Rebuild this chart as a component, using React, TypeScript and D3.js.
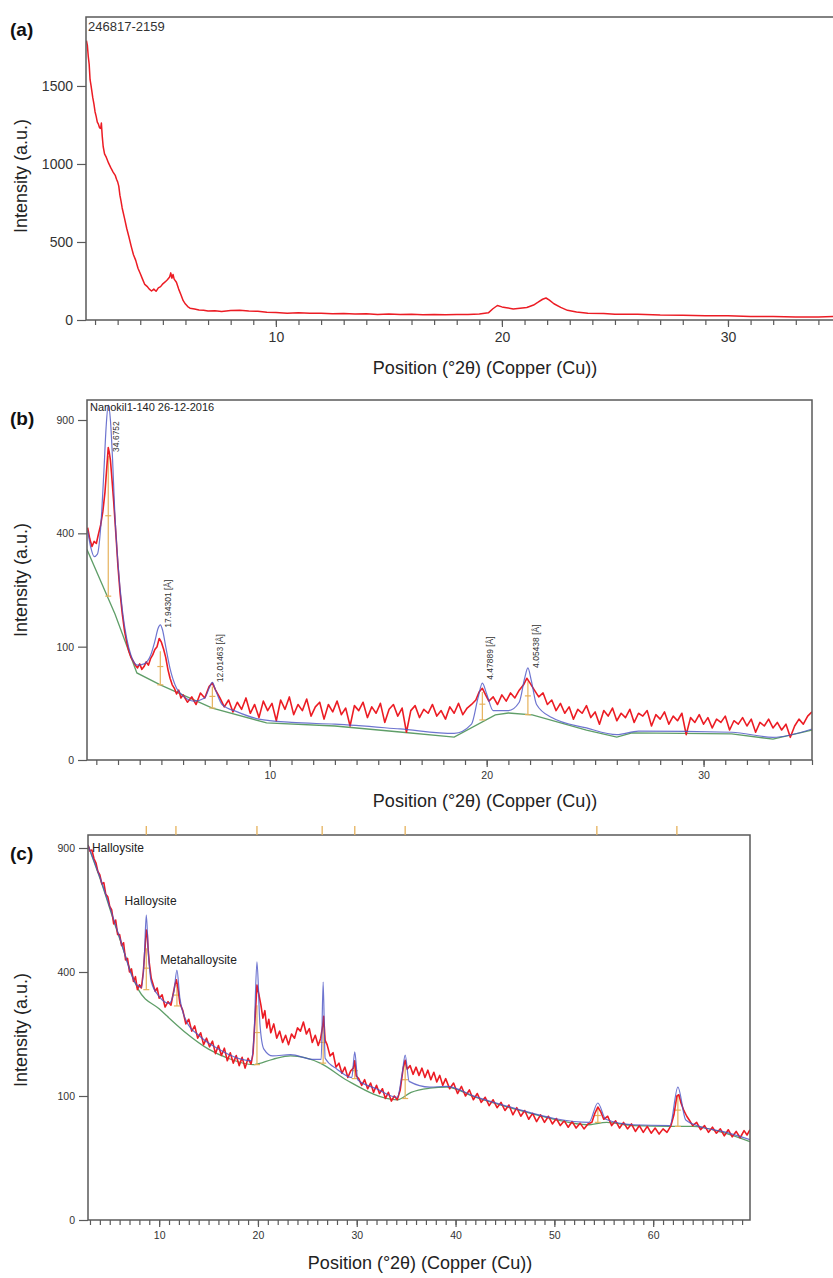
import * as d3 from "d3";
import React, { useRef, useEffect } from "react";

// ---- panel (a) : raw scan 246817-2159, [2theta, counts]
const redA = [
  [1.62, 1790], [1.66, 1760], [1.7, 1690], [1.74, 1640], [1.78, 1540], [1.82, 1505], [1.86, 1465], [1.9, 1425],
  [1.95, 1385], [2.0, 1335], [2.05, 1305], [2.1, 1268], [2.15, 1255], [2.2, 1232], [2.25, 1228], [2.28, 1262],
  [2.32, 1175], [2.36, 1112], [2.42, 1065], [2.5, 1042], [2.6, 1005], [2.7, 975], [2.8, 948], [2.9, 925],
  [2.95, 902], [3.0, 885], [3.05, 858], [3.1, 800], [3.15, 762], [3.2, 718], [3.3, 655], [3.4, 588],
  [3.5, 532], [3.6, 472], [3.7, 418], [3.8, 382], [3.9, 332], [4.0, 298], [4.1, 262], [4.2, 228],
  [4.3, 216], [4.4, 198], [4.5, 186], [4.6, 198], [4.7, 184], [4.8, 206], [4.9, 214], [5.0, 232],
  [5.1, 244], [5.2, 258], [5.3, 276], [5.35, 302], [5.4, 268], [5.45, 292], [5.5, 262], [5.6, 242],
  [5.7, 198], [5.8, 162], [5.9, 124], [6.0, 102], [6.1, 86], [6.2, 76], [6.4, 71], [6.6, 64],
  [6.8, 63], [7.0, 58], [7.3, 60], [7.6, 55], [8.0, 61], [8.4, 63], [8.8, 57], [9.2, 56],
  [9.6, 49], [10.0, 48], [10.5, 44], [11.0, 46], [11.5, 43], [12.0, 44], [12.5, 40], [13.0, 42],
  [13.5, 39], [14.0, 40], [14.5, 36], [15.0, 38], [15.5, 35], [16.0, 37], [16.5, 34], [17.0, 36],
  [17.5, 33], [18.0, 36], [18.5, 35], [19.0, 39], [19.4, 46], [19.6, 72], [19.8, 93], [20.0, 84],
  [20.2, 79], [20.5, 71], [20.8, 76], [21.1, 80], [21.4, 96], [21.6, 114], [21.8, 133], [21.95, 141],
  [22.1, 127], [22.3, 104], [22.6, 81], [22.9, 62], [23.3, 51], [23.8, 44], [24.5, 41], [25.0, 37],
  [26.0, 37], [27.0, 32], [28.0, 31], [29.0, 27], [30.0, 28], [31.0, 23], [32.0, 23], [33.0, 19],
  [34.0, 20], [35.0, 23],
];
const yTicksA = [0, 500, 1000, 1500];
const xLabelsAB = [10, 20, 30];

// ---- panel (b) : Nanokil1-140 26-12-2016
const redB = [
  [1.6, 420], [1.7, 380], [1.8, 355], [1.9, 372], [2.0, 365], [2.1, 398], [2.2, 430], [2.3, 480],
  [2.4, 560], [2.5, 690], [2.55, 760], [2.6, 735], [2.65, 700], [2.7, 640], [2.8, 520], [2.9, 400],
  [3.0, 290], [3.1, 215], [3.2, 165], [3.3, 130], [3.4, 108], [3.5, 92], [3.6, 82], [3.7, 76],
  [3.8, 70], [3.9, 66], [4.0, 72], [4.1, 64], [4.2, 68], [4.3, 75], [4.4, 70], [4.5, 80],
  [4.6, 86], [4.7, 95], [4.8, 100], [4.9, 115], [5.0, 108], [5.1, 96], [5.2, 82], [5.3, 64],
  [5.4, 52], [5.5, 44], [5.6, 40], [5.7, 34], [5.8, 38], [5.9, 30], [6.0, 33], [6.2, 26],
  [6.4, 31], [6.6, 24], [6.8, 35], [7.0, 30], [7.2, 42], [7.35, 46], [7.5, 38], [7.7, 30],
  [7.9, 22], [8.1, 28], [8.3, 18], [8.5, 26], [8.7, 20], [8.9, 30], [9.1, 17], [9.3, 24],
  [9.5, 14], [9.7, 27], [9.9, 19], [10.1, 25], [10.3, 12], [10.5, 28], [10.7, 20], [10.9, 31],
  [11.1, 16], [11.3, 24], [11.5, 19], [11.7, 29], [11.9, 15], [12.1, 22], [12.3, 26], [12.5, 13],
  [12.7, 24], [12.9, 18], [13.1, 27], [13.3, 16], [13.5, 21], [13.7, 9], [13.9, 23], [14.1, 19],
  [14.3, 26], [14.5, 14], [14.7, 22], [14.9, 17], [15.1, 25], [15.3, 11], [15.5, 20], [15.7, 24],
  [15.9, 15], [16.1, 21], [16.3, 6], [16.5, 19], [16.7, 23], [16.9, 14], [17.1, 20], [17.3, 17],
  [17.5, 24], [17.7, 15], [17.9, 19], [18.1, 13], [18.3, 22], [18.5, 17], [18.7, 25], [18.9, 16],
  [19.1, 21], [19.3, 24], [19.5, 28], [19.65, 36], [19.8, 40], [19.95, 33], [20.1, 27], [20.3, 31],
  [20.5, 24], [20.7, 33], [20.9, 27], [21.1, 35], [21.3, 30], [21.5, 38], [21.7, 44], [21.85, 52],
  [22.0, 46], [22.2, 38], [22.4, 31], [22.6, 35], [22.8, 24], [23.0, 28], [23.2, 19], [23.4, 25],
  [23.6, 17], [23.8, 22], [24.0, 13], [24.2, 20], [24.4, 17], [24.6, 23], [24.8, 14], [25.0, 18],
  [25.2, 10], [25.4, 19], [25.6, 15], [25.8, 21], [26.0, 12], [26.2, 17], [26.4, 14], [26.6, 20],
  [26.8, 11], [27.0, 17], [27.2, 15], [27.4, 19], [27.6, 9], [27.8, 16], [28.0, 13], [28.2, 18],
  [28.4, 10], [28.6, 15], [28.8, 12], [29.0, 17], [29.2, 5], [29.4, 14], [29.6, 11], [29.8, 16],
  [30.0, 10], [30.2, 14], [30.4, 8], [30.6, 13], [30.8, 11], [31.0, 15], [31.2, 7], [31.4, 12],
  [31.6, 10], [31.8, 14], [32.0, 9], [32.2, 13], [32.4, 6], [32.6, 11], [32.8, 9], [33.0, 13],
  [33.2, 8], [33.4, 11], [33.6, 7], [33.8, 10], [34.0, 4], [34.2, 9], [34.4, 13], [34.6, 10],
  [34.8, 15], [35.0, 18],
];
const fitB = [
  [1.6, 410], [1.75, 350], [1.9, 322], [2.05, 330], [2.2, 420], [2.35, 650], [2.45, 860], [2.55, 980],
  [2.65, 900], [2.75, 700], [2.85, 480], [3.0, 300], [3.2, 175], [3.4, 115], [3.6, 85], [3.9, 70],
  [4.2, 72], [4.5, 85], [4.7, 110], [4.85, 135], [4.95, 142], [5.05, 132], [5.2, 100], [5.4, 65],
  [5.7, 40], [6.0, 32], [6.5, 27], [7.0, 30], [7.2, 40], [7.35, 47], [7.5, 38], [7.8, 24],
  [8.5, 18], [9.5, 13], [11, 11], [13, 10], [16, 7.5], [18.5, 5.5], [19.3, 10], [19.6, 30],
  [19.8, 46], [20.0, 34], [20.3, 19], [21.0, 19], [21.5, 26], [21.75, 52], [21.9, 66], [22.05, 50],
  [22.3, 24], [23.0, 14], [24.6, 8], [26.0, 5], [27, 6.5], [31.3, 6], [33.2, 4], [35, 7.5],
];
const bgB = [
  [1.57, 345], [2.86, 166], [3.87, 59], [4.95, 44], [7.35, 21], [9.85, 10.7], [13, 9], [16, 6.1],
  [18.5, 4.1], [20.4, 15.8], [21.0, 17.2], [22.1, 15.8], [24.6, 7], [26, 4.1], [26.7, 5.7],
  [31.3, 5.3], [33.2, 3.4], [35, 7],
];
// peak markers: [2theta, background, marker top]
const markersB = [[2.55, 209, 720], [4.95, 44, 92], [7.35, 21, 42], [19.8, 12.5, 36], [21.9, 16, 48]];
const peakTextB = ["34.6752", "17.94301 [Å]", "12.01463 [Å]", "4.47889 [Å]", "4.05438 [Å]"];
const peakTextAtB = [739, 136, 47, 50, 66];
const yTicksBC = [0, 100, 400, 900];

// ---- panel (c) : halloysite
const redC = [
  [2.8, 914], [3.0, 885], [3.2, 890], [3.4, 850], [3.6, 830], [3.8, 790], [4.0, 775], [4.2, 735],
  [4.4, 740], [4.6, 690], [4.8, 680], [5.0, 640], [5.2, 625], [5.4, 570], [5.6, 585], [5.8, 530],
  [6.0, 530], [6.2, 490], [6.4, 500], [6.6, 440], [6.8, 445], [7.0, 400], [7.2, 410], [7.4, 370],
  [7.6, 385], [7.8, 345], [8.0, 360], [8.2, 350], [8.4, 400], [8.55, 470], [8.7, 547], [8.8, 530],
  [8.9, 470], [9.0, 430], [9.2, 380], [9.4, 360], [9.6, 340], [9.8, 350], [10.0, 320], [10.3, 330],
  [10.6, 295], [10.9, 310], [11.2, 300], [11.4, 330], [11.6, 360], [11.75, 375], [11.9, 350], [12.1, 305],
  [12.4, 285], [12.7, 250], [13.0, 262], [13.3, 232], [13.6, 245], [13.9, 215], [14.2, 228], [14.5, 200],
  [14.8, 215], [15.1, 195], [15.4, 208], [15.7, 180], [16.0, 198], [16.3, 176], [16.6, 192], [16.9, 165],
  [17.2, 182], [17.5, 160], [17.8, 176], [18.1, 155], [18.4, 172], [18.7, 150], [19.0, 170], [19.3, 158],
  [19.5, 180], [19.7, 260], [19.9, 359], [20.1, 330], [20.3, 300], [20.5, 265], [20.7, 285], [20.9, 240],
  [21.1, 262], [21.3, 228], [21.6, 250], [21.9, 215], [22.2, 232], [22.5, 205], [22.8, 222], [23.1, 200],
  [23.4, 225], [23.7, 215], [24.0, 240], [24.3, 232], [24.6, 255], [24.9, 225], [25.2, 238], [25.5, 205],
  [25.8, 222], [26.1, 198], [26.35, 215], [26.55, 245], [26.65, 270], [26.8, 210], [27.0, 200], [27.3, 175],
  [27.6, 182], [27.9, 152], [28.2, 160], [28.5, 140], [28.8, 152], [29.1, 132], [29.4, 145], [29.65, 150],
  [29.8, 165], [29.95, 135], [30.2, 130], [30.5, 118], [30.8, 128], [31.1, 112], [31.4, 122], [31.7, 106],
  [32.0, 118], [32.3, 104], [32.6, 112], [32.9, 96], [33.2, 106], [33.5, 92], [33.8, 100], [34.1, 94],
  [34.4, 110], [34.7, 150], [34.9, 166], [35.1, 148], [35.4, 155], [35.7, 138], [36.0, 152], [36.3, 136],
  [36.6, 150], [36.9, 132], [37.2, 146], [37.5, 128], [37.8, 142], [38.1, 124], [38.4, 136], [38.7, 118],
  [39.0, 130], [39.4, 112], [39.8, 122], [40.2, 104], [40.6, 116], [41.0, 100], [41.4, 110], [41.8, 94],
  [42.2, 104], [42.6, 90], [43.0, 98], [43.4, 85], [43.8, 94], [44.2, 82], [44.6, 90], [45.0, 78],
  [45.4, 86], [45.8, 72], [46.2, 82], [46.6, 70], [47.0, 78], [47.4, 66], [47.8, 74], [48.2, 63],
  [48.6, 72], [49.0, 62], [49.4, 70], [49.8, 60], [50.2, 67], [50.6, 58], [51.0, 64], [51.4, 56],
  [51.8, 63], [52.2, 55], [52.6, 61], [53.0, 54], [53.4, 60], [53.8, 62], [54.1, 74], [54.4, 83],
  [54.7, 76], [55.0, 66], [55.4, 70], [55.8, 58], [56.2, 64], [56.6, 55], [57.0, 62], [57.4, 54],
  [57.8, 60], [58.2, 51], [58.6, 58], [59.0, 50], [59.4, 57], [59.8, 49], [60.2, 55], [60.6, 48],
  [61.0, 54], [61.4, 50], [61.8, 58], [62.1, 72], [62.4, 100], [62.6, 102], [62.8, 90], [63.1, 78],
  [63.4, 70], [63.7, 64], [64.0, 58], [64.4, 62], [64.8, 53], [65.2, 58], [65.6, 50], [66.0, 56],
  [66.4, 49], [66.8, 54], [67.2, 46], [67.6, 53], [68.0, 45], [68.4, 51], [68.8, 44], [69.2, 52],
  [69.5, 47], [69.8, 53],
];
const fitC = [
  [2.8, 914], [4, 765], [6, 520], [7.6, 365], [8.2, 352], [8.5, 450], [8.7, 605], [8.9, 470],
  [9.2, 370], [10, 325], [11, 305], [11.5, 340], [11.8, 406], [12.1, 320], [12.8, 255], [14, 222],
  [16, 190], [18, 170], [19.3, 165], [19.6, 220], [19.9, 433], [20.2, 250], [20.6, 190], [21.5, 175],
  [23.3, 178], [25.5, 168], [26.4, 168], [26.6, 368], [26.8, 170], [28, 148], [29.5, 132], [29.8, 184],
  [30.1, 128], [32, 112], [34.1, 98], [34.6, 140], [34.9, 177], [35.3, 125], [37.4, 115], [39.1, 116],
  [42, 99], [46, 81], [50, 67], [53.5, 62], [54.4, 89], [55.2, 66], [58, 59], [61.7, 58],
  [62.5, 115], [63.3, 65], [65, 56], [67, 51], [69.8, 42],
];
const bgC = [
  [2.8, 914], [4, 760], [6, 515], [7.9, 345], [10, 290], [12.5, 232], [15, 190], [17, 170],
  [19.5, 157], [21.5, 168], [23.3, 175], [26.3, 160], [29, 127], [34.1, 94], [35.5, 106], [37.4, 113],
  [39.1, 115], [42, 98], [46, 80], [50, 66], [53.3, 59], [55.3, 62], [58, 58], [61.7, 57],
  [64, 57], [67, 50], [69.8, 40],
];
const markersC = [[8.7, 345, 480], [11.8, 298, 360], [19.9, 157, 300], [26.6, 160, 250], [29.8, 130, 160], [34.9, 96, 160], [54.4, 62, 80], [62.5, 57, 100]];
const refLinesC = [8.7, 11.7, 19.9, 26.5, 29.8, 34.9, 54.3, 62.4];
const phaseNamesC = ["Halloysite", "Halloysite", "Metahalloysite"];
const phaseAtC = [[3.2, 881], [6.5, 645], [10.1, 426]];
const xLabelsC = [10, 20, 30, 40, 50, 60];

const RED = "#ec1c24";
const BLUE = "#4a52c4";
const GREEN = "#5f9e68";
const TAN = "#e6b25c";
const AXIS = "#5a5a5a";
const SANS = "Liberation Sans, Arial, sans-serif";
const NARROW = "Liberation Sans Narrow, Liberation Sans, Arial, sans-serif";

function App() {
  const ref = useRef(null);

  useEffect(() => {
    const svg = d3.select(ref.current);
    svg.selectAll("*").remove();

    draw(svg, {
      id: "a", letter: "(a)", letterY: 36, left: 86, right: 841, top: 17, bottom: 320,
      xDom: [1.6, 35], sqrt: false, yMax: 1942, yTicks: yTicksA, xLabels: xLabelsAB,
      minor: d3.range(2, 36), tickFont: 14, tickFamily: NARROW, titleY: 374, titleX: 485, yTitleY: 176,
      red: redA, redWidth: 1.5,
    });
    svg.append("text").attr("x", 88).attr("y", 31).attr("font-family", NARROW).attr("font-size", 13)
      .attr("fill", "#333").text("246817-2159");

    const b = draw(svg, {
      id: "b", letter: "(b)", letterY: 425, left: 87, right: 812, top: 400, bottom: 760,
      xDom: [1.57, 35], sqrt: true, yMax: 1009, yTicks: yTicksBC, xLabels: xLabelsAB,
      minor: d3.range(2, 36), tickFont: 10.5, tickFamily: SANS, titleY: 807, titleX: 485, yTitleY: 580,
      red: redB, fit: fitB, bg: bgB, bgCurve: d3.curveLinear, markers: markersB, redWidth: 1.6,
    });
    svg.append("text").attr("x", 90).attr("y", 411).attr("font-family", SANS).attr("font-size", 11)
      .attr("fill", "#222").text("Nanokil1-140 26-12-2016");
    markersB.forEach((m, i) => {
      const px = b.x(m[0]) + 8, py = b.y(peakTextAtB[i]);
      svg.append("text").attr("transform", `translate(${px},${py}) rotate(-90)`)
        .attr("dy", "0.35em").attr("font-family", SANS).attr("font-size", 8.5).attr("fill", "#333")
        .text(peakTextB[i]);
    });

    const c = draw(svg, {
      id: "c", letter: "(c)", letterY: 860, left: 88, right: 750, top: 835, bottom: 1220,
      xDom: [2.8, 69.8], sqrt: true, yMax: 964, yTicks: yTicksBC, xLabels: xLabelsC,
      minor: d3.range(3, 70), tickFont: 10.5, tickFamily: SANS, titleY: 1269, titleX: 420, yTitleY: 1030,
      red: redC, fit: fitC, bg: bgC, bgCurve: d3.curveMonotoneX, markers: markersC, redWidth: 1.6,
    });
    svg.append("g").selectAll("line").data(refLinesC).enter().append("line")
      .attr("x1", d => c.x(d)).attr("x2", d => c.x(d)).attr("y1", 826).attr("y2", 835)
      .attr("stroke", TAN).attr("stroke-width", 1.3);
    phaseNamesC.forEach((name, i) => {
      svg.append("text").attr("x", c.x(phaseAtC[i][0])).attr("y", c.y(phaseAtC[i][1]))
        .attr("font-family", SANS).attr("font-size", 12).attr("fill", "#222").text(name);
    });
  }, []);

  const draw = (svg, p) => {
    const x = d3.scaleLinear().domain(p.xDom).range([p.left, p.right]);
    const y = (p.sqrt ? d3.scaleSqrt() : d3.scaleLinear()).domain([0, p.yMax]).range([p.bottom, p.top]);
    const line = (curve) => d3.line().x(d => x(d[0])).y(d => y(d[1])).curve(curve);

    svg.append("clipPath").attr("id", "clip-" + p.id).append("rect")
      .attr("x", p.left).attr("y", p.top).attr("width", p.right - p.left).attr("height", p.bottom - p.top);
    const plot = svg.append("g").attr("clip-path", `url(#clip-${p.id})`);

    if (p.bg) {
      plot.append("path").datum(p.bg).attr("d", line(p.bgCurve)).attr("fill", "none")
        .attr("stroke", GREEN).attr("stroke-width", 1.3);
    }
    if (p.markers) {
      const mk = plot.append("g").attr("stroke", TAN).attr("stroke-width", 1.2);
      p.markers.forEach(m => {
        const px = x(m[0]);
        mk.append("line").attr("x1", px).attr("x2", px).attr("y1", y(m[1])).attr("y2", y(m[2]));
        [m[1], (m[1] + m[2]) / 2].forEach(v =>
          mk.append("line").attr("x1", px - 3).attr("x2", px + 3).attr("y1", y(v)).attr("y2", y(v)));
      });
    }
    plot.append("path").datum(p.red).attr("d", line(d3.curveLinear)).attr("fill", "none")
      .attr("stroke", RED).attr("stroke-width", p.redWidth).attr("stroke-linejoin", "round");
    if (p.fit) {
      plot.append("path").datum(p.fit).attr("d", line(d3.curveMonotoneX)).attr("fill", "none")
        .attr("stroke", BLUE).attr("stroke-opacity", 0.8).attr("stroke-width", 1.2);
    }

    // frame
    svg.append("rect").attr("x", p.left).attr("y", p.top).attr("width", p.right - p.left)
      .attr("height", p.bottom - p.top).attr("fill", "none").attr("stroke", AXIS).attr("stroke-width", 1.5);

    // x axis: minor + labelled ticks
    const gxm = svg.append("g").attr("transform", `translate(0,${p.bottom})`)
      .call(d3.axisBottom(x).tickValues(p.minor).tickSize(5).tickSizeOuter(0).tickFormat(() => ""));
    const gx = svg.append("g").attr("transform", `translate(0,${p.bottom})`)
      .call(d3.axisBottom(x).tickValues(p.xLabels).tickSize(7).tickSizeOuter(0).tickPadding(5));
    const gy = svg.append("g").attr("transform", `translate(${p.left},0)`)
      .call(d3.axisLeft(y).tickValues(p.yTicks).tickSize(9).tickSizeOuter(0).tickPadding(4).tickFormat(d3.format("d")));
    [gxm, gx, gy].forEach(g => {
      g.select(".domain").remove();
      g.selectAll("line").attr("stroke", AXIS).attr("stroke-width", 1.2);
      g.selectAll("text").attr("font-family", p.tickFamily).attr("font-size", p.tickFont).attr("fill", "#333");
    });

    svg.append("text").attr("x", p.titleX).attr("y", p.titleY).attr("text-anchor", "middle")
      .attr("font-family", SANS).attr("font-size", 18).attr("fill", "#222")
      .text("Position (°2θ) (Copper (Cu))");
    svg.append("text").attr("transform", `translate(27,${p.yTitleY}) rotate(-90)`).attr("text-anchor", "middle")
      .attr("font-family", SANS).attr("font-size", 18).attr("fill", "#222").text("Intensity (a.u.)");
    svg.append("text").attr("x", 10).attr("y", p.letterY).attr("font-family", SANS).attr("font-size", 19)
      .attr("font-weight", "bold").attr("fill", "#111").text(p.letter);

    return { x, y };
  };

  return (
    <div className="Chart">
      <svg ref={ref} width={833} height={1278} style={{ position: "absolute", left: 0, top: 0 }}></svg>
    </div>
  );
}

export default App;
